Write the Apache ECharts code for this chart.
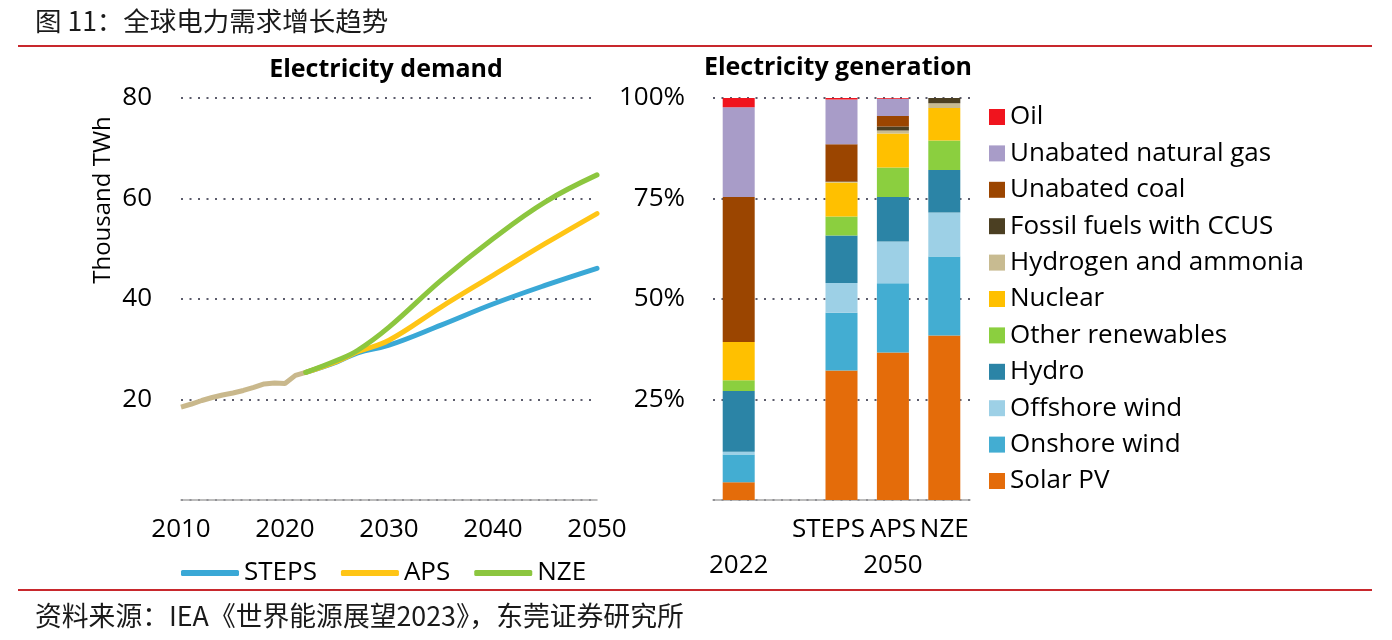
<!DOCTYPE html>
<html>
<head>
<meta charset="utf-8">
<title>全球电力需求增长趋势</title>
<script src="https://cdn.jsdelivr.net/npm/echarts@6/dist/echarts.min.js"></script>
<style>
    html, body { margin: 0; padding: 0; background: #ffffff; }
    #chart { width: 1392px; height: 640px; }
</style>
</head>
<body>
<div id="chart"></div>
<script>
// left panel: electricity demand, thousand TWh
const historyYears = [2010, 2011, 2012, 2013, 2014, 2015, 2016, 2017, 2018, 2019, 2020, 2021, 2022];
const historyValues = [18.5, 19.1, 19.8, 20.4, 20.9, 21.3, 21.8, 22.4, 23.1, 23.3, 23.2, 24.8, 25.4];
const scenarioYears = [2022, 2025, 2027, 2030, 2035, 2040, 2045, 2050];
const stepsValues = [25.4, 27.5, 29.3, 30.8, 34.8, 39.0, 42.7, 46.1];
const apsValues = [25.4, 27.6, 29.5, 31.8, 38.4, 44.7, 51.0, 57.0];
const nzeValues = [25.4, 27.8, 29.8, 34.4, 43.7, 52.0, 59.3, 64.7];
const demandTicks = [20, 40, 60, 80];

// right panel: electricity generation shares, %
const genCategories = ["2022", "", "STEPS", "APS", "NZE"];
const solarPv = [4.4, null, 32.2, 36.7, 40.9];
const onshoreWind = [6.9, null, 14.4, 17.2, 19.7];
const offshoreWind = [0.7, null, 7.4, 10.4, 10.9];
const hydro = [15.1, null, 11.8, 11.1, 10.6];
const otherRenewables = [2.7, null, 4.7, 7.3, 7.3];
const nuclear = [9.5, null, 8.5, 8.5, 8.1];
const hydrogenAmmonia = [0, null, 0.1, 0.7, 1.2];
const fossilCcus = [0, null, 0.1, 1.0, 1.3];
const unabatedCoal = [36.1, null, 9.3, 2.6, 0.3];
const unabatedGas = [22.3, null, 11.1, 4.3, 0.2];
const oil = [2.3, null, 0.4, 0.2, 0.1];

const font = "Open Sans";
const cjkFont = "Noto Sans CJK SC";

function pairs(xs, ys) {
    return xs.map((x, i) => [x, ys[i]]);
}

const genSeries = [
    ["Solar PV", solarPv, "#e46c0a"],
    ["Onshore wind", onshoreWind, "#43add2"],
    ["Offshore wind", offshoreWind, "#9dd0e6"],
    ["Hydro", hydro, "#2b84a6"],
    ["Other renewables", otherRenewables, "#8bcf3f"],
    ["Nuclear", nuclear, "#ffc000"],
    ["Hydrogen and ammonia", hydrogenAmmonia, "#c8bb91"],
    ["Fossil fuels with CCUS", fossilCcus, "#4b3f22"],
    ["Unabated coal", unabatedCoal, "#9b4500"],
    ["Unabated natural gas", unabatedGas, "#a89cc8"],
    ["Oil", oil, "#f0141e"]
];

const dotted = { color: "#5b5b6b", width: 2, type: [2, 6.5] };

const chart = echarts.init(document.getElementById("chart"));

chart.setOption({
    animation: false,
    textStyle: { fontFamily: font },
    title: [
        {
            text: "Electricity demand", left: 386, top: 57, textAlign: "center", padding: 0,
            textStyle: { fontFamily: font, fontSize: 25, fontWeight: "bold", color: "#000" }
        },
        {
            text: "Electricity generation", left: 838, top: 55, textAlign: "center", padding: 0,
            textStyle: { fontFamily: font, fontSize: 25, fontWeight: "bold", color: "#000" }
        }
    ],
    graphic: [
        {
            type: "text", left: 35, top: 8,
            style: { text: "图 11：全球电力需求增长趋势", font: `26.5px "${cjkFont}"`, fill: "#1a1a1a" }
        },
        {
            type: "line", shape: { x1: 18, y1: 46, x2: 1372, y2: 46 },
            style: { stroke: "#c8282d", lineWidth: 2 }
        },
        {
            type: "line", shape: { x1: 18, y1: 590, x2: 1372, y2: 590 },
            style: { stroke: "#c8282d", lineWidth: 2 }
        },
        {
            type: "text", left: 35, top: 602,
            style: { text: "资料来源：IEA《世界能源展望2023》，东莞证券研究所", font: `26.8px "${cjkFont}"`, fill: "#1a1a1a" }
        },
        {
            type: "text", x: 103, y: 200, rotation: Math.PI / 2,
            style: {
                text: "Thousand TWh", font: `24px "${font}"`, fill: "#000",
                textAlign: "center", textVerticalAlign: "middle"
            }
        }
    ],
    legend: [
        {
            data: ["STEPS", "APS", "NZE"],
            left: 176, top: 555,
            icon: "roundRect", itemWidth: 58, itemHeight: 6, itemGap: 24,
            textStyle: { fontFamily: font, fontSize: 26, color: "#000", lineHeight: 26 }
        },
        {
            data: genSeries.map(s => s[0]).reverse(),
            orient: "vertical",
            left: 984, top: 99,
            icon: "rect", itemWidth: 16, itemHeight: 16, itemGap: 10.4,
            textStyle: { fontFamily: font, fontSize: 26, color: "#000", lineHeight: 24 }
        }
    ],
    grid: [
        { left: 181, right: 795, top: 98, bottom: 140 },
        { left: 713, right: 422, top: 98, bottom: 140 }
    ],
    xAxis: [
        {
            type: "value", gridIndex: 0, min: 2010, max: 2050, interval: 10,
            axisLine: { show: true, lineStyle: { color: "#a6a6a6", width: 1.5 } },
            axisTick: { show: false },
            splitLine: { show: false },
            axisLabel: { fontSize: 26, color: "#000", margin: 17, fontFamily: font, formatter: v => String(v) }
        },
        {
            type: "category", gridIndex: 1, data: genCategories,
            axisLine: { show: true, lineStyle: { color: "#a6a6a6", width: 1.5 } },
            axisTick: { show: false },
            axisLabel: {
                interval: 0, fontSize: 26, color: "#000", margin: 12, lineHeight: 36, fontFamily: font,
                formatter: v => v === "2022" ? "\n2022" : v === "APS" ? "APS\n2050" : v === "STEPS" ? "{s|STEPS}" : v,
                rich: {
                    s: { fontSize: 26, fontFamily: font, color: "#000", lineHeight: 36, padding: [0, 26, 0, 0] }
                }
            }
        }
    ],
    yAxis: [
        {
            type: "value", gridIndex: 0, min: 0, max: demandTicks[demandTicks.length - 1], interval: 20,
            axisLine: { show: false }, axisTick: { show: false },
            splitLine: { show: true, lineStyle: dotted },
            axisLabel: { showMinLabel: false, fontSize: 26, color: "#000", margin: 29, fontFamily: font }
        },
        {
            type: "value", gridIndex: 1, min: 0, max: 100, interval: 25,
            axisLine: { show: false }, axisTick: { show: false },
            splitLine: { show: true, lineStyle: dotted },
            axisLabel: { showMinLabel: false, fontSize: 26, color: "#000", margin: 28, fontFamily: font, formatter: "{value}%" }
        }
    ],
    series: [
        {
            name: "History", type: "line", xAxisIndex: 0, yAxisIndex: 0,
            data: pairs(historyYears, historyValues), showSymbol: false,
            lineStyle: { color: "#c9b88c", width: 5 }, itemStyle: { color: "#c9b88c" }
        },
        {
            name: "STEPS", type: "line", xAxisIndex: 0, yAxisIndex: 0, smooth: 0.4,
            data: pairs(scenarioYears, stepsValues), showSymbol: false,
            lineStyle: { color: "#3aa8d6", width: 5, cap: "round" }, itemStyle: { color: "#3aa8d6" }
        },
        {
            name: "APS", type: "line", xAxisIndex: 0, yAxisIndex: 0, smooth: 0.4,
            data: pairs(scenarioYears, apsValues), showSymbol: false,
            lineStyle: { color: "#ffc515", width: 5, cap: "round" }, itemStyle: { color: "#ffc515" }
        },
        {
            name: "NZE", type: "line", xAxisIndex: 0, yAxisIndex: 0, smooth: 0.4,
            data: pairs(scenarioYears, nzeValues), showSymbol: false,
            lineStyle: { color: "#8cc63f", width: 5, cap: "round" }, itemStyle: { color: "#8cc63f" }
        },
        ...genSeries.map(([name, values, color]) => ({
            name, type: "bar", xAxisIndex: 1, yAxisIndex: 1, stack: "gen",
            barWidth: 32, data: values, itemStyle: { color }
        }))
    ]
});

window.addEventListener("resize", () => chart.resize());
</script>
</body>
</html>
